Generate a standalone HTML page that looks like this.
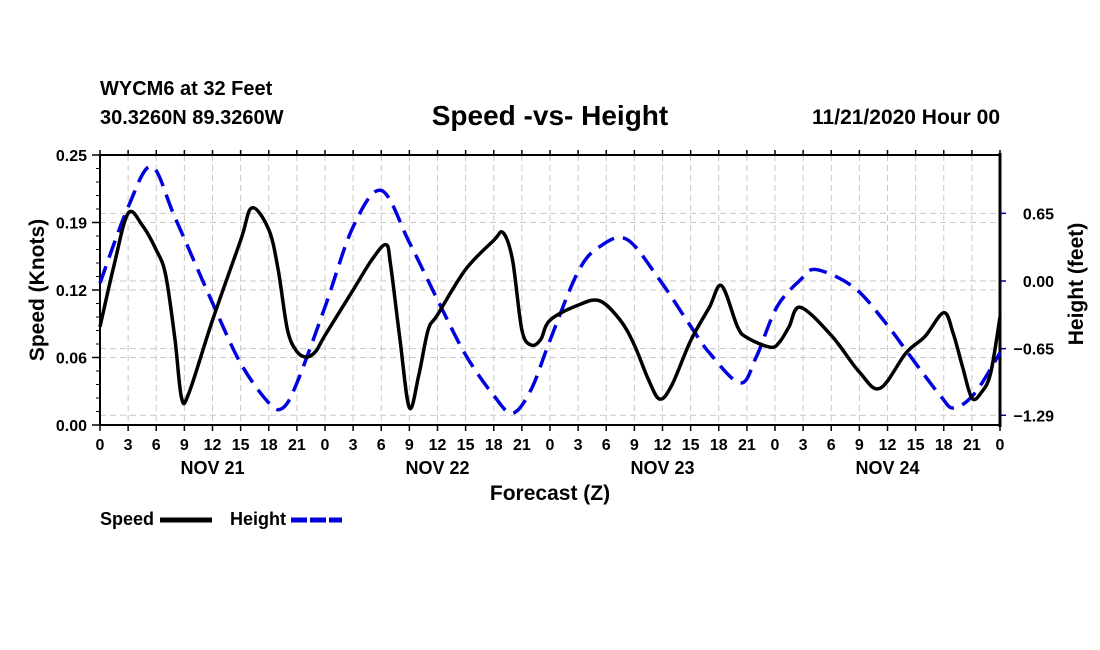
<!DOCTYPE html>
<html><head><meta charset="utf-8"><style>
body{margin:0;background:#fff;}
svg{display:block;font-family:"Liberation Sans",sans-serif;font-weight:bold;}
</style></head><body>
<svg id="chart" width="1100" height="650" viewBox="0 0 1100 650">
<text x="100" y="95" font-size="20">WYCM6 at 32 Feet</text>
<text x="100" y="124" font-size="20">30.3260N 89.3260W</text>
<text x="550" y="125" font-size="28" text-anchor="middle">Speed -vs- Height</text>
<text x="1000" y="124" font-size="21" text-anchor="end">11/21/2020 Hour 00</text>
<g id="grid"></g>
<g id="axes"></g>
<g id="series"></g>
<text transform="translate(44,290) rotate(-90)" font-size="21" text-anchor="middle">Speed (Knots)</text>
<text transform="translate(1083,284) rotate(-90)" font-size="21" text-anchor="middle">Height (feet)</text>
<text x="550" y="500" font-size="21" text-anchor="middle">Forecast (Z)</text>
<g>
<text x="100" y="525" font-size="18">Speed</text>
<line x1="160" y1="520" x2="212" y2="520" stroke="#000" stroke-width="5"/>
</g>
<g>
<text x="230" y="525" font-size="18">Height</text>
<line x1="291" y1="520" x2="342" y2="520" stroke="#0000e0" stroke-width="5" stroke-dasharray="16,3"/>
</g>
</svg>
<script>
const speedHours=[0,1.5,3,4.5,6,7,8,8.7,9.5,12,15,16.2,18,19,20,21,22,23,24,27,29,30.5,31,32,33,34,35,36,39,42,43,44,45,46,47,48,51,53.3,55.5,57,58.5,59.7,61,63,65,66.3,68,69,71.5,72.5,73.5,74.7,78,81,83.2,86,88,90,91,92,93,94,95,96];
const speedValues=[0.091,0.148,0.196,0.185,0.162,0.139,0.079,0.025,0.030,0.097,0.171,0.201,0.181,0.144,0.088,0.068,0.063,0.068,0.083,0.125,0.153,0.167,0.148,0.079,0.016,0.046,0.088,0.102,0.144,0.171,0.178,0.153,0.088,0.074,0.079,0.097,0.111,0.115,0.097,0.074,0.042,0.024,0.037,0.078,0.109,0.129,0.091,0.081,0.072,0.077,0.091,0.109,0.083,0.049,0.034,0.067,0.082,0.104,0.085,0.054,0.025,0.030,0.048,0.100];
const heightHours=[0,3,5.5,8,12,15,18,19.5,21,24,27,30,33,36,39,42,44,46,48,51,53.3,56.2,59.7,62.9,65,68.3,70,72.2,74.7,76.4,80.4,83.6,86.5,89.7,91.1,93.3,96];
const heightValues=[-0.02,0.71,1.10,0.61,-0.21,-0.79,-1.17,-1.22,-0.98,-0.25,0.52,0.87,0.37,-0.18,-0.71,-1.10,-1.27,-1.04,-0.57,0.09,0.33,0.40,0.01,-0.42,-0.69,-0.98,-0.73,-0.25,0.01,0.11,-0.06,-0.38,-0.73,-1.11,-1.22,-1.08,-0.69];
const speedTicks=[0,0.0625,0.125,0.1875,0.25];
const speedTickLabels=["0.00","0.06","0.12","0.19","0.25"];
const heightTicks=[0.65,0,-0.65,-1.29];
const heightTickLabels=["0.65","0.00","\u22120.65","\u22121.29"];
const dayLabels=["NOV 21","NOV 22","NOV 23","NOV 24"];

const L=100,R=1000,T=155,B=425;
const xs=h=>L+(R-L)*h/96;
const ys=v=>B-(B-T)*v/0.25;
const yh=v=>281-104.1*v;
const NS="http://www.w3.org/2000/svg";
function mk(tag,attrs,parent){const e=document.createElementNS(NS,tag);for(const k in attrs)e.setAttribute(k,attrs[k]);parent.appendChild(e);return e;}
const grid=document.getElementById('grid'),axes=document.getElementById('axes'),series=document.getElementById('series');
for(let h=0;h<=96;h+=3){
  const x=xs(h);
  if(h>0&&h<96){const g=mk('line',{x1:x,x2:x,y1:T,y2:B,stroke:'#c8c8c8','stroke-dasharray':'6,4','stroke-width':1},grid);
  }
  mk('line',{x1:x,x2:x,y1:B,y2:B+6,stroke:'#000','stroke-width':1.5},axes);
  mk('line',{x1:x,x2:x,y1:T,y2:T-5,stroke:'#000','stroke-width':1.5},axes);
  const t=mk('text',{x:x,y:450,'font-size':16,'text-anchor':'middle'},axes);t.textContent=String(h%24);
  
}
dayLabels.forEach((d,i)=>{const t=mk('text',{x:xs(12+24*i),y:474,'font-size':18,'text-anchor':'middle'},axes);t.textContent=d;
  });
speedTicks.forEach((v,i)=>{const y=ys(v);
  if(i>0&&i<speedTicks.length-1){const g=mk('line',{x1:L,x2:R,y1:y,y2:y,stroke:'#c8c8c8','stroke-dasharray':'6,4'},grid);
  }
  mk('line',{x1:L-8,x2:L,y1:y,y2:y,stroke:'#000','stroke-width':1.5},axes);
  const t=mk('text',{x:L-13,y:y+6,'font-size':16,'text-anchor':'end'},axes);t.textContent=speedTickLabels[i];
  });
for(let v=0;v<=0.25;v+=0.0125){mk('line',{x1:L-4,x2:L,y1:ys(v),y2:ys(v),stroke:'#000'},axes);}
heightTicks.forEach((v,i)=>{const y=yh(v);
  const g=mk('line',{x1:L,x2:R,y1:y,y2:y,stroke:'#c8c8c8','stroke-dasharray':'6,4'},grid);
  
  mk('line',{x1:R,x2:R+6,y1:y,y2:y,stroke:'#00a','stroke-width':1.5},axes);
  const t=mk('text',{x:1054,y:y+6,'font-size':16,'text-anchor':'end'},axes);t.textContent=heightTickLabels[i];
  });
mk('line',{x1:L,x2:R,y1:T,y2:T,stroke:'#000','stroke-width':2},axes);
mk('line',{x1:L,x2:R,y1:B,y2:B,stroke:'#000','stroke-width':2},axes);
mk('line',{x1:L,x2:L,y1:T,y2:B,stroke:'#000','stroke-width':2},axes);
mk('line',{x1:R,x2:R,y1:T-2,y2:B+2,stroke:'#000','stroke-width':3},axes);
function path(pts){let d='M'+pts[0][0]+','+pts[0][1];
  for(let i=0;i<pts.length-1;i++){const p0=pts[i-1]||pts[i],p1=pts[i],p2=pts[i+1],p3=pts[i+2]||p2;
    d+=' C'+(p1[0]+(p2[0]-p0[0])/6)+','+(p1[1]+(p2[1]-p0[1])/6)+' '+(p2[0]-(p3[0]-p1[0])/6)+','+(p2[1]-(p3[1]-p1[1])/6)+' '+p2[0]+','+p2[1];}
  return d;}
const hp=mk('path',{d:path(heightHours.map((h,i)=>[xs(h),yh(heightValues[i])])),fill:'none',stroke:'#0000e0','stroke-width':3.5,'stroke-dasharray':'18,9'},series);


const sp=mk('path',{d:path(speedHours.map((h,i)=>[xs(h),ys(speedValues[i])])),fill:'none',stroke:'#000','stroke-width':3.5,'stroke-linejoin':'round'},series);


</script>
</body></html>
